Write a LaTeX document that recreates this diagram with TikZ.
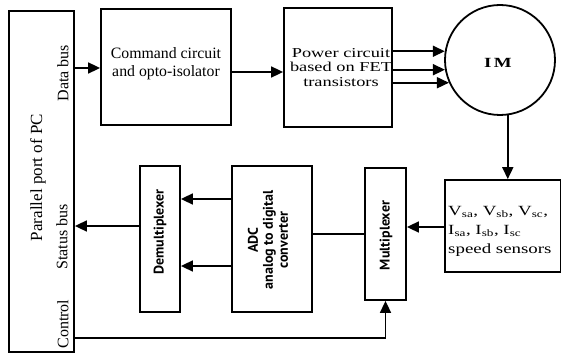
\documentclass[tikz,border=0pt]{standalone}
\usepackage{fontspec}
\setmainfont{Liberation Serif}
\newfontfamily\widefont[FakeStretch=1.35]{Liberation Serif}
\newfontfamily\optfont{PT Sans}
\usetikzlibrary{arrows.meta,calc}
\begin{document}
\begin{tikzpicture}[x=1pt,y=-1pt,
  box/.style={draw,line width=1.8pt,inner sep=0pt},
  arr/.style={line width=1.7pt,-{Triangle[length=12pt,width=11pt]}},
  ln/.style={line width=1.7pt},
  vtext/.style={rotate=90,inner sep=0pt,font=\fontsize{16}{18}\selectfont},
  stext/.style={rotate=90,inner sep=0pt,align=center,font=\optfont\bfseries\fontsize{14}{15}\selectfont}]
\useasboundingbox (0,0) rectangle (561,358);
% boxes
\node[box,minimum width=65,minimum height=341] (port) at (41.5,181.5) {};
\node[box,minimum width=130,minimum height=116] (cmd) at (166,67) {};
\node[box,minimum width=108,minimum height=119] (pwr) at (338,67.5) {};
\node[box,circle,minimum size=110] (IM) at (500,60) {};
\node[box,minimum width=116,minimum height=92] (sens) at (503,226) {};
\node[box,minimum width=41,minimum height=132] (mux) at (385.5,234) {};
\node[box,minimum width=80,minimum height=146] (adc) at (272,239) {};
\node[box,minimum width=40,minimum height=146] (demux) at (160,239) {};
% texts
\node[vtext,font=\fontsize{17}{18}\selectfont] (ptitle) at (38,177.5) {Parallel port of PC};
\node[vtext] (tdata) at (63,73) {Data bus};
\node[vtext] (tstatus) at (62,237) {Status bus};
\node[vtext] (tcontrol) at (63,324) {Control};
\node[align=center,inner sep=0pt,font=\fontsize{15.8}{18}\selectfont] (tcmd) at (166,64) {Command circuit\\and opto-isolator};
\node[align=center,inner sep=0pt,font=\widefont\fontsize{13.6}{14.5}\selectfont] (tpwr) at (341,67.5) {Power circuit\\based on FET\\transistors};
\node[inner sep=0pt,font=\widefont\bfseries\fontsize{14}{16}\selectfont] (tim) at (498,63) {I\,M};
\node[anchor=west,align=left,inner sep=0pt,font=\widefont\fontsize{14}{19}\selectfont] (tsens) at (448,231) {V\textsubscript{sa}, V\textsubscript{sb}, V\textsubscript{sc},\\I\textsubscript{sa}, I\textsubscript{sb}, I\textsubscript{sc}\\speed sensors};
\node[stext] (tmux) at (386,235.5) {Multiplexer};
\node[stext] (tdemux) at (160,232) {Demultiplexer};
\node[stext] (tadc) at (268,240) {ADC\\analog to digital\\converter};
% helper coordinates
\coordinate (a1) at ($(adc.west)+(0,-40)$);
\coordinate (a2) at ($(adc.west)+(0,27)$);
\coordinate (d1) at ($(demux.west)+(0,-13)$);
\coordinate (m1) at (IM.278);
% connectors
\draw[arr] (port.east |- 0,68) -- (cmd.west |- 0,68);
\draw[arr] (cmd.east |- 0,72) -- (pwr.west |- 0,72);
\draw[arr] (IM.171.6 -| pwr.east) -- (IM.171.6);
\draw[arr] (IM.190.5 -| pwr.east) -- (IM.190.5);
\draw[arr] (IM.204.7 -| pwr.east) -- (IM.204.7);
\draw[arr] (m1) -- (m1 |- sens.north);
\draw[arr] (sens.west |- 0,227) -- (mux.east |- 0,227);
\draw[ln] (mux.west) -- (mux.west -| adc.east);
\draw[arr] (a1) -- (a1 -| demux.east);
\draw[arr] (a2) -- (a2 -| demux.east);
\draw[arr] (d1) -- (d1 -| port.east);
\draw[arr] (port.east |- 0,338) -| (mux.south);
\end{tikzpicture}
\end{document}
